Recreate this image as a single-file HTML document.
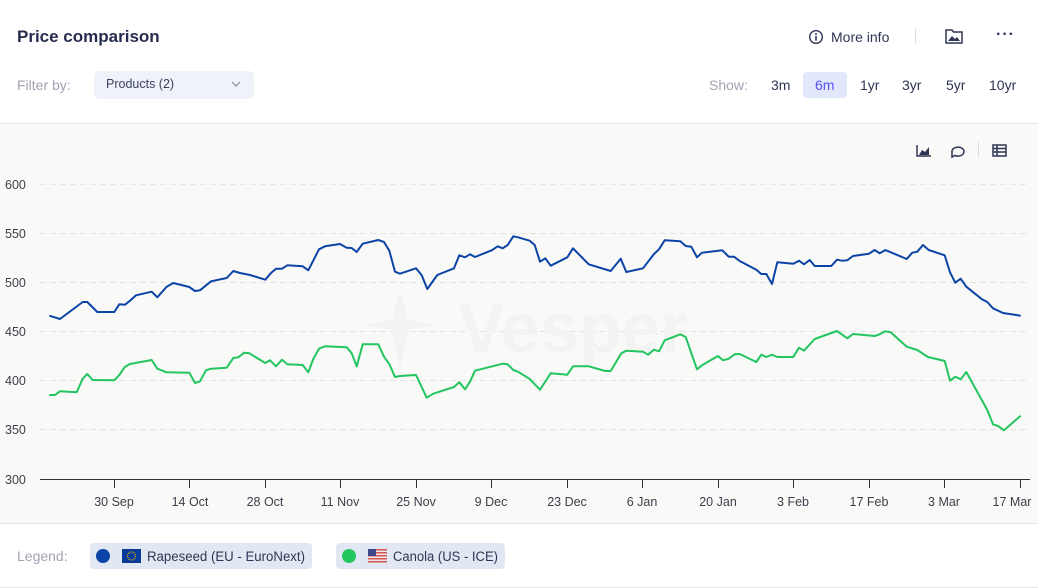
<!DOCTYPE html>
<html><head><meta charset="utf-8"><style>
*{margin:0;padding:0;box-sizing:border-box}
body{width:1038px;height:588px;overflow:hidden;background:#fff;font-family:"Liberation Sans",sans-serif;position:relative;color:#2a3050}
.a{position:absolute;white-space:nowrap}
</style></head><body>
<div class="a" style="left:17px;top:27px;font-size:17px;font-weight:bold;color:#262d4d">Price comparison</div>
<div class="a" style="left:17px;top:77px;font-size:14px;color:#a0a4b4">Filter by:</div>
<div class="a" style="left:94px;top:71px;width:160px;height:28px;background:#eff2f8;border-radius:5px"></div>
<div class="a" style="left:106px;top:77px;font-size:12.5px;color:#3b4262">Products (2)</div>
<svg class="a" style="left:231px;top:81px" width="10" height="7"><path d="M1 1l4 4 4-4" stroke="#8a8fa3" fill="none" stroke-width="1.2"/></svg>
<svg class="a" style="left:808px;top:29px" width="16" height="16"><circle cx="8" cy="8" r="6.3" stroke="#2f3554" fill="none" stroke-width="1.4"/><path d="M8 7v4.5" stroke="#2f3554" stroke-width="1.6"/><circle cx="8" cy="5" r="1" fill="#2f3554"/></svg>
<div class="a" style="left:831px;top:29px;font-size:14px;color:#2f3554">More info</div>
<div class="a" style="left:915px;top:28px;width:1px;height:16px;background:#ddd"></div>
<svg class="a" style="left:945px;top:28px" width="18" height="16"><path d="M1 2h6l1.5 2H17v11H1z" stroke="#2f3554" fill="none" stroke-width="1.5"/><path d="M3 13l4-5 3 3 2-2 3 4z" fill="#2f3554"/></svg>
<div class="a" style="left:996px;top:26px;font-size:16px;color:#2f3554;letter-spacing:1px;font-weight:bold">···</div>
<div class="a" style="left:709px;top:77px;font-size:14px;color:#a0a4b4">Show:</div>
<div class="a" style="left:803px;top:72px;width:44px;height:26px;background:#e1e8fb;border-radius:4px"></div>
<div class="a" style="left:771px;top:77px;font-size:14px;color:#2f3554">3m</div>
<div class="a" style="left:815px;top:77px;font-size:14px;color:#5a4ff0">6m</div>
<div class="a" style="left:860px;top:77px;font-size:14px;color:#2f3554">1yr</div>
<div class="a" style="left:902px;top:77px;font-size:14px;color:#2f3554">3yr</div>
<div class="a" style="left:946px;top:77px;font-size:14px;color:#2f3554">5yr</div>
<div class="a" style="left:989px;top:77px;font-size:14px;color:#2f3554">10yr</div>
<div class="a" style="left:0;top:123px;width:1038px;height:401px;background:#f9f9f8;border-top:1px solid #e4e4e4;border-bottom:1px solid #e4e4e4"></div>
<svg class="a" style="left:0;top:0" width="1038" height="588">
<g stroke="#2f3554" fill="none" stroke-width="1.5">
<path d="M917 145v11h14"/><path d="M919 155l3-5 3 2 4-5v8z" fill="#2f3554" stroke="none"/>
<path d="M952 152a6 4.5 0 1 1 3 3.5l-3 1.5z"/>
<rect x="993" y="145" width="13" height="11"/><path d="M993 148.5h13M993 152h13M997 145v11"/>
</g>
<line x1="978.5" y1="142" x2="978.5" y2="158" stroke="#ddd"/>
<g stroke="#e3e3e3" stroke-dasharray="6 4">
<line x1="40" y1="184.3" x2="1028" y2="184.3"/><line x1="40" y1="233.5" x2="1028" y2="233.5"/><line x1="40" y1="282.5" x2="1028" y2="282.5"/><line x1="40" y1="331.5" x2="1028" y2="331.5"/><line x1="40" y1="380.5" x2="1028" y2="380.5"/><line x1="40" y1="429.5" x2="1028" y2="429.5"/>
</g>
<text x="458" y="352" font-size="70" font-weight="bold" fill="#f3f3f2" font-family="Liberation Sans">Vesper</text>
<path d="M400 290l8 30 28 5-28 5-8 40-8-40-30-5 30-5z" fill="#f3f3f2"/>
<g font-size="12.5" fill="#3b3f4a" font-family="Liberation Sans">
<text x="5" y="189">600</text><text x="5" y="238">550</text><text x="5" y="287">500</text><text x="5" y="336">450</text><text x="5" y="385">400</text><text x="5" y="434">350</text><text x="5" y="484">300</text>
</g>
<line x1="40" y1="479.5" x2="1030" y2="479.5" stroke="#333" stroke-width="1"/>
<g stroke="#333">
<path d="M114.5 480v8M189.5 480v8M265.5 480v8M340.5 480v8M416.5 480v8M491.5 480v8M567.5 480v8M642.5 480v8M718.5 480v8M793.5 480v8M869.5 480v8M944.5 480v8M1020.5 480v8"/>
</g>
<g font-size="12.5" fill="#3b3f4a" text-anchor="middle" font-family="Liberation Sans">
<text x="114" y="506">30 Sep</text><text x="190" y="506">14 Oct</text><text x="265" y="506">28 Oct</text><text x="340" y="506">11 Nov</text><text x="416" y="506">25 Nov</text><text x="491" y="506">9 Dec</text><text x="567" y="506">23 Dec</text><text x="642" y="506">6 Jan</text><text x="718" y="506">20 Jan</text><text x="793" y="506">3 Feb</text><text x="869" y="506">17 Feb</text><text x="944" y="506">3 Mar</text><text x="1012" y="506">17 Mar</text>
</g>
<polyline fill="none" stroke="#0b44a6" stroke-width="2" stroke-linejoin="round" points="49.3,315.7 60,319 82.7,302 87.3,302 97.3,312 114.3,312 119.3,304.3 125,304.7 130,300.7 136,295.3 151.7,291.7 157.3,297.3 166.7,286.7 173.3,283 189.3,287 195,291 200,290.3 211,281.3 226.7,278 233.3,271 240,273 250,275 265.3,279.7 270.7,273.3 276,268.7 282,268.7 287.3,265.3 302.7,266.3 308.3,270.3 319,249.3 325,246.3 340,244 346.7,247.7 351.7,248 356.7,252 362.7,243.7 378.3,240 384,242 389.3,250.7 395,271.7 400,273.7 416,268.3 421.7,275.3 427.3,289 437.3,275 454,268.3 459.3,255.3 465,257.3 470,254.3 475,257 491.7,250.3 497.7,246.3 502.7,248.3 507.7,245 513.3,236.3 518,237.3 529.7,240.7 534.7,245 540,261.7 545.3,258.3 550.7,265.7 567.3,257.3 573,248.3 588.7,264.3 610.7,271 620.7,258.7 626.3,272 643,268.3 654,254 659,249.3 664.7,240.3 680.3,241.3 685.7,246 691.3,246.7 697,257.3 702,252.7 722.3,250.3 728.7,256.7 734,256.7 739.7,261 756.3,269.7 761.3,274 766.3,274 772,284 777.3,262.3 793.3,263.7 799,260.7 804,264.3 809.7,260 814.7,266 831.3,266 837,259.7 842,260.7 847.3,260.3 853,256 869,253.7 874.7,250 879.7,253.3 885.3,250 906.7,259 912.3,252.7 917.3,251.7 923,245 928.7,250 944.7,255.3 950,272.3 955.3,282.7 960.7,278.7 966.3,286.7 982,299.3 987.3,302 993,308.3 1003,313 1020.7,315.7"/>
<polyline fill="none" stroke="#22c55e" stroke-width="2" stroke-linejoin="round" points="49.3,395 55,395 60,391.3 76.7,392.3 82.7,378.7 87.3,374 92.7,380 114.3,380.3 119.3,375 125,366.7 130,364 151.7,360 157.3,368.7 166.7,372.3 189.3,372.7 195,383 200,381.3 206,370.3 211,368.7 226.7,367.7 233.3,358 238.3,357.3 244.3,352.7 249.3,353.3 265.3,363 270,360.3 276,366.3 282,359.7 287.3,364.3 302.7,365 308.3,372.3 313.3,359 319,348.7 325,346.3 346.7,347.3 351.7,353.3 356.7,366.3 362.7,344.3 378.3,344.3 384,356.7 389.3,364 395,377 400,376 416,375 426.7,397.7 433.3,393.7 454,387 459.3,382.3 465,389.3 470,381.7 475,370.7 502.7,363.7 507.7,364.3 513.3,370 518,371.7 529.7,379 540,389.7 550.7,373.3 567.3,374.7 573,366.3 588.7,366.3 605.3,371 610.7,371 621.3,353.3 626.3,350.7 643,351.7 648,354.7 654,349.7 659,351.3 664.7,340.3 680.3,334.3 685.7,337 697,369.3 702,365.3 718,356 723,360.3 728.7,358.7 734.7,354.3 739.7,354 756.3,362 761.3,354.7 766.3,357 772,354.7 777.3,357 793.3,357 799,347.7 804,350.7 814.7,339 831.3,333 837,331 847.3,338.3 853,334 874.7,336 879.7,334.3 885.3,331.3 890.7,332.3 906.7,346.7 917.3,350 928,357 944.7,361 950,380.7 955.3,376.7 960.7,379.3 966.3,372 987.3,410 993,424.3 998,426 1004,430.3 1020.7,415.7"/>
<rect x="90" y="543" width="222" height="26" rx="4" fill="#e1e8f3"/>
<rect x="336" y="543" width="169" height="26" rx="4" fill="#e1e8f3"/>
<circle cx="103" cy="556" r="7" fill="#0b44a6"/>
<circle cx="349" cy="556" r="7" fill="#22c55e"/>
<rect x="122" y="549" width="19" height="14" fill="#0a3a9a"/>
<circle cx="131.5" cy="556" r="4" fill="none" stroke="#f5c400" stroke-width="1.2" stroke-dasharray="1 1.1"/>
<rect x="368" y="549" width="19" height="14" fill="#e8e8ee"/>
<g fill="#d9534f"><rect x="368" y="549" width="19" height="1.5"/><rect x="368" y="552" width="19" height="1.5"/><rect x="368" y="555" width="19" height="1.5"/><rect x="368" y="558" width="19" height="1.5"/><rect x="368" y="561" width="19" height="1.5"/></g>
<rect x="368" y="549" width="8" height="7" fill="#3c4a8a"/>
<g font-size="13.5" fill="#2f3554" font-family="Liberation Sans">
<text x="147" y="561" textLength="158" lengthAdjust="spacingAndGlyphs">Rapeseed (EU - EuroNext)</text>
<text x="393" y="561" textLength="105" lengthAdjust="spacingAndGlyphs">Canola (US - ICE)</text>
</g>
<text x="17" y="561" font-size="14" fill="#a0a4b4" font-family="Liberation Sans">Legend:</text>
<line x1="0" y1="587.5" x2="1038" y2="587.5" stroke="#e4e4e4"/>
</svg>
</body></html>
